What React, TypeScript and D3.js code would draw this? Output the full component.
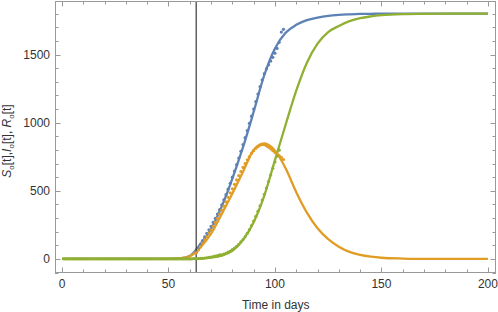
import { useEffect, useRef } from "react";
import * as d3 from "d3";

// model curves (days, values)
const curveDays = [0, 10, 20, 30, 40, 50, 55, 60, 65, 70, 75, 80, 85, 90, 95, 100, 105, 110, 115, 120, 125, 130, 135, 140, 145, 150, 160, 170, 180, 190, 200];
const blueCurve = [0, 0, 0, 0, 0, 1, 4, 22, 110, 220, 385, 590, 820, 1080, 1350, 1545, 1660, 1718, 1752, 1771, 1784, 1791, 1795, 1798, 1799, 1800, 1800, 1800, 1800, 1800, 1800];
const orangeCurve = [0, 0, 0, 0, 0, 1, 4, 20, 85, 185, 330, 480, 640, 800, 848, 795, 665, 490, 340, 225, 145, 90, 52, 30, 17, 9, 3, 1, 0, 0, 0];
const greenCurve = [0, 0, 0, 0, 0, 0, 0, 1, 3, 10, 25, 60, 140, 270, 465, 725, 985, 1235, 1440, 1580, 1665, 1710, 1745, 1767, 1780, 1789, 1797, 1799, 1800, 1800, 1800];

// observed data
const obsStart = 63;
const blueObs = [50, 76, 108, 135, 162, 188, 214, 240, 268, 298, 330, 362, 398, 434, 472, 512, 555, 600, 645, 692, 740, 790, 840, 890, 942, 995, 1048, 1100, 1155, 1210, 1265, 1315, 1360, 1395, 1425, 1452, 1480, 1510, 1545, 1590, 1665, 1685];
const orangeObs = [45, 65, 90, 115, 140, 165, 190, 212, 240, 268, 298, 328, 358, 388, 420, 452, 485, 515, 548, 580, 612, 642, 672, 700, 728, 752, 775, 795, 812, 825, 835, 840, 838, 830, 820, 808, 795, 782, 770, 758, 745, 730];
const greenStart = 1;
const greenObs = [
  0, 0, 0, 0, 0, 0, 0, 0, 0, 0, 0, 0, 0, 0, 0, 0, 0, 0, 0, 0,
  0, 0, 0, 0, 0, 0, 0, 0, 0, 0, 0, 0, 0, 0, 0, 0, 0, 0, 0, 0,
  0, 0, 0, 0, 0, 0, 0, 0, 0, 0, 0, 0, 0, 0, 0, 0, 0, 0, 0, 0,
  1, 2, 2, 3, 4, 5, 7, 9, 11, 14, 17, 21, 25, 30, 30, 35, 42, 50, 58, 68,
  80, 93, 108, 125, 142, 163, 188, 215, 245, 278, 312, 350, 390, 432, 475, 520, 568, 617, 665, 712,
  755, 798,
];

const xTicks = [0, 50, 100, 150, 200];
const yTicks = [0, 500, 1000, 1500];
const markerDay = 63;

const colors = { blue: "#5e81b5", orange: "#e19c24", green: "#8fb032" };

const DrawChart = (element: any) => {
  d3.select(element).selectAll("*").remove();
  const svg = d3.select(element);
  const font = "'Liberation Sans', Arial, sans-serif";

  const left = 55, right = 496, top = 1, bottom = 273;
  const x = d3.scaleLinear().domain([-3.29, 203.8]).range([left, right]);
  const y = d3.scaleLinear().domain([-103, 1893]).range([bottom, top]);

  const clip = svg.append("clipPath").attr("id", "plotclip");
  clip.append("rect").attr("x", left).attr("y", top).attr("width", right - left).attr("height", bottom - top);

  const plot = svg.append("g").attr("clip-path", "url(#plotclip)");

  const line = d3
    .line<number>()
    .x((d, i) => x(curveDays[i]))
    .y((d) => y(d))
    .curve(d3.curveMonotoneX);

  [
    [blueCurve, colors.blue],
    [orangeCurve, colors.orange],
    [greenCurve, colors.green],
  ].forEach(([vals, c]: any) => {
    plot
      .append("path")
      .attr("d", line(vals))
      .attr("fill", "none")
      .attr("stroke", c)
      .attr("stroke-width", 2.3);
  });

  // marker line
  plot
    .append("line")
    .attr("x1", x(markerDay))
    .attr("x2", x(markerDay))
    .attr("y1", top)
    .attr("y2", bottom)
    .attr("stroke", "#111")
    .attr("stroke-width", 1);

  const dots = (vals: number[], start: number, c: string) => {
    plot
      .append("g")
      .selectAll("circle")
      .data(vals)
      .enter()
      .append("circle")
      .attr("cx", (d, i) => x(start + i))
      .attr("cy", (d) => y(d))
      .attr("r", 1.6)
      .attr("fill", c);
  };
  dots(blueObs, obsStart, colors.blue);
  dots(orangeObs, obsStart, colors.orange);
  dots(greenObs, greenStart, colors.green);

  // frame
  const frameColor = "#999";
  svg
    .append("rect")
    .attr("x", left + 0.5)
    .attr("y", top + 0.5)
    .attr("width", right - left - 1)
    .attr("height", bottom - top - 1)
    .attr("fill", "none")
    .attr("stroke", frameColor);

  const ticks = svg.append("g").attr("stroke", frameColor).attr("stroke-width", 1);
  d3.range(0, 201, 10).forEach((t) => {
    const len = t % 50 === 0 ? 5.5 : 3.5;
    const px = Math.round(x(t)) + 0.5;
    ticks.append("line").attr("x1", px).attr("x2", px).attr("y1", bottom).attr("y2", bottom - len);
    ticks.append("line").attr("x1", px).attr("x2", px).attr("y1", top).attr("y2", top + len);
  });
  d3.range(-100, 1801, 100).forEach((v) => {
    const len = v % 500 === 0 ? 5.5 : 3.5;
    const py = Math.round(y(v)) + 0.5;
    ticks.append("line").attr("x1", left).attr("x2", left + len).attr("y1", py).attr("y2", py);
    ticks.append("line").attr("x1", right).attr("x2", right - len).attr("y1", py).attr("y2", py);
  });

  svg
    .append("g")
    .selectAll("text")
    .data(xTicks)
    .enter()
    .append("text")
    .attr("x", (d) => x(d))
    .attr("y", 288)
    .attr("text-anchor", "middle")
    .style("font-family", font)
    .style("font-size", "12px")
    .style("fill", "#333")
    .text((d) => d);

  svg
    .append("g")
    .selectAll("text")
    .data(yTicks)
    .enter()
    .append("text")
    .attr("x", 50)
    .attr("y", (d) => y(d))
    .attr("dy", "0.35em")
    .attr("text-anchor", "end")
    .style("font-family", font)
    .style("font-size", "12px")
    .style("fill", "#333")
    .text((d) => d);

  svg
    .append("text")
    .attr("x", 275.7)
    .attr("y", 308.5)
    .attr("text-anchor", "middle")
    .style("font-family", font)
    .style("font-size", "12px")
    .style("fill", "#333")
    .text("Time in days");

  const yl = svg
    .append("text")
    .attr("transform", "translate(10.5,141) rotate(-90)")
    .attr("text-anchor", "middle")
    .style("font-family", font)
    .style("font-size", "12px")
    .style("fill", "#333");
  const part = (name: string, tail: string) => {
    yl.append("tspan").style("font-style", "italic").text(name);
    yl.append("tspan").attr("dy", 3).style("font-size", "8px").text("o");
    yl.append("tspan").attr("dy", -3).text(tail);
  };
  part("S", "[t],");
  part("I", "[t], ");
  part("R", "[t]");
};

const App = () => {
  const ref = useRef<SVGSVGElement>(null);
  useEffect(() => {
    DrawChart(ref.current);
  }, []);
  return (
    <svg
      ref={ref}
      width={498}
      height={312}
      style={{ position: "absolute", left: 0, top: 0, background: "#fff" }}
    />
  );
};

export default App;
